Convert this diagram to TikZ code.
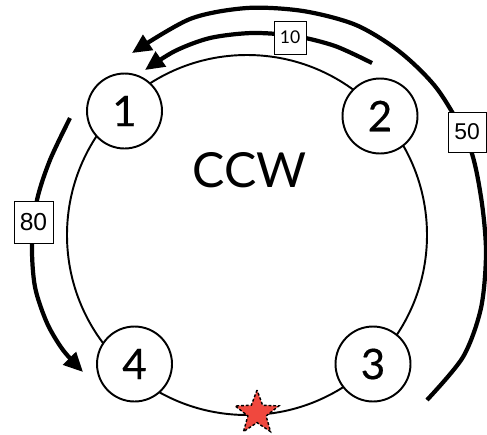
\documentclass[tikz,border=0pt]{standalone}
\usepackage{fontspec}
\setmainfont{Lato}
\newfontfamily\labelfont{Liberation Sans}
\newfontfamily\sitefont[FakeBold=0.4]{Lato}
\usetikzlibrary{shapes.geometric,arrows.meta}
\definecolor{starred}{RGB}{240,72,62}
\begin{document}
\begin{tikzpicture}[x=0.02cm,y=-0.02cm,
  site/.style={circle,draw,line width=1.1pt,fill=white,minimum size=1.5cm,
    inner sep=0pt,font=\sitefont\fontsize{24}{24}\selectfont},
  flow/.style={line width=2.4pt,-{Triangle[length=11pt,width=10pt]}},
  cost/.style={draw,line width=0.5pt,fill=white,inner sep=0pt}]
\useasboundingbox (0,0) rectangle (487,434);

% ring
\coordinate (ctr) at (247,235);
\draw[line width=1.1pt] (ctr) circle[radius=180];

% sites on the ring
\node[site] (n1) at (124.5,111) {1};
\node[site] (n2) at (380,116) {2};
\node[site] (n3) at (373,364) {3};
\node[site] (n4) at (134.5,364) {4};

\node[font=\fontsize{27.5}{28}\selectfont] (dir) at (249.5,170) {CCW};

% marker at the bottom of the ring
\node[star,star points=5,star point ratio=2.4,minimum size=0.92cm,inner sep=0pt,
  fill=starred,draw,line width=0.8pt,dash pattern=on 1.6pt off 1.1pt] (mark) at (257,413) {};

% short arc 2 -> 1
\coordinate (a0) at (372,63);
\coordinate (a9) at (145,70);
\draw[flow] plot[smooth] coordinates {(a0) (335,46) (295,36) (252,33) (210,38) (175,51) (a9)};
\node[cost,minimum width=0.64cm,minimum height=0.66cm,font=\fontsize{10}{10}\selectfont] (c10) at (290,37.5) {10};

% long arc 3 -> 1
\coordinate (b0) at (427,400);
\coordinate (b9) at (132,53);
\draw[flow] plot[smooth] coordinates {(b0) (463,357) (481,308) (486,252) (481,197) (469,145) (438,90) (400,52) (356,25) (303,11) (247,8) (190,19) (b9)};
\node[cost,minimum width=0.76cm,minimum height=0.80cm,font=\labelfont\fontsize{13}{13}\selectfont] (c50) at (467,132) {50};

% arc 1 -> 4
\coordinate (l0) at (70,118);
\coordinate (l9) at (83,372);
\draw[flow] plot[smooth] coordinates {(l0) (50,160) (37,200) (32,245) (35,287) (47,323) (63,350) (l9)};
\node[cost,minimum width=0.78cm,minimum height=0.84cm,font=\labelfont\fontsize{14}{14}\selectfont] (c80) at (33.5,222) {80};
\end{tikzpicture}
\end{document}
